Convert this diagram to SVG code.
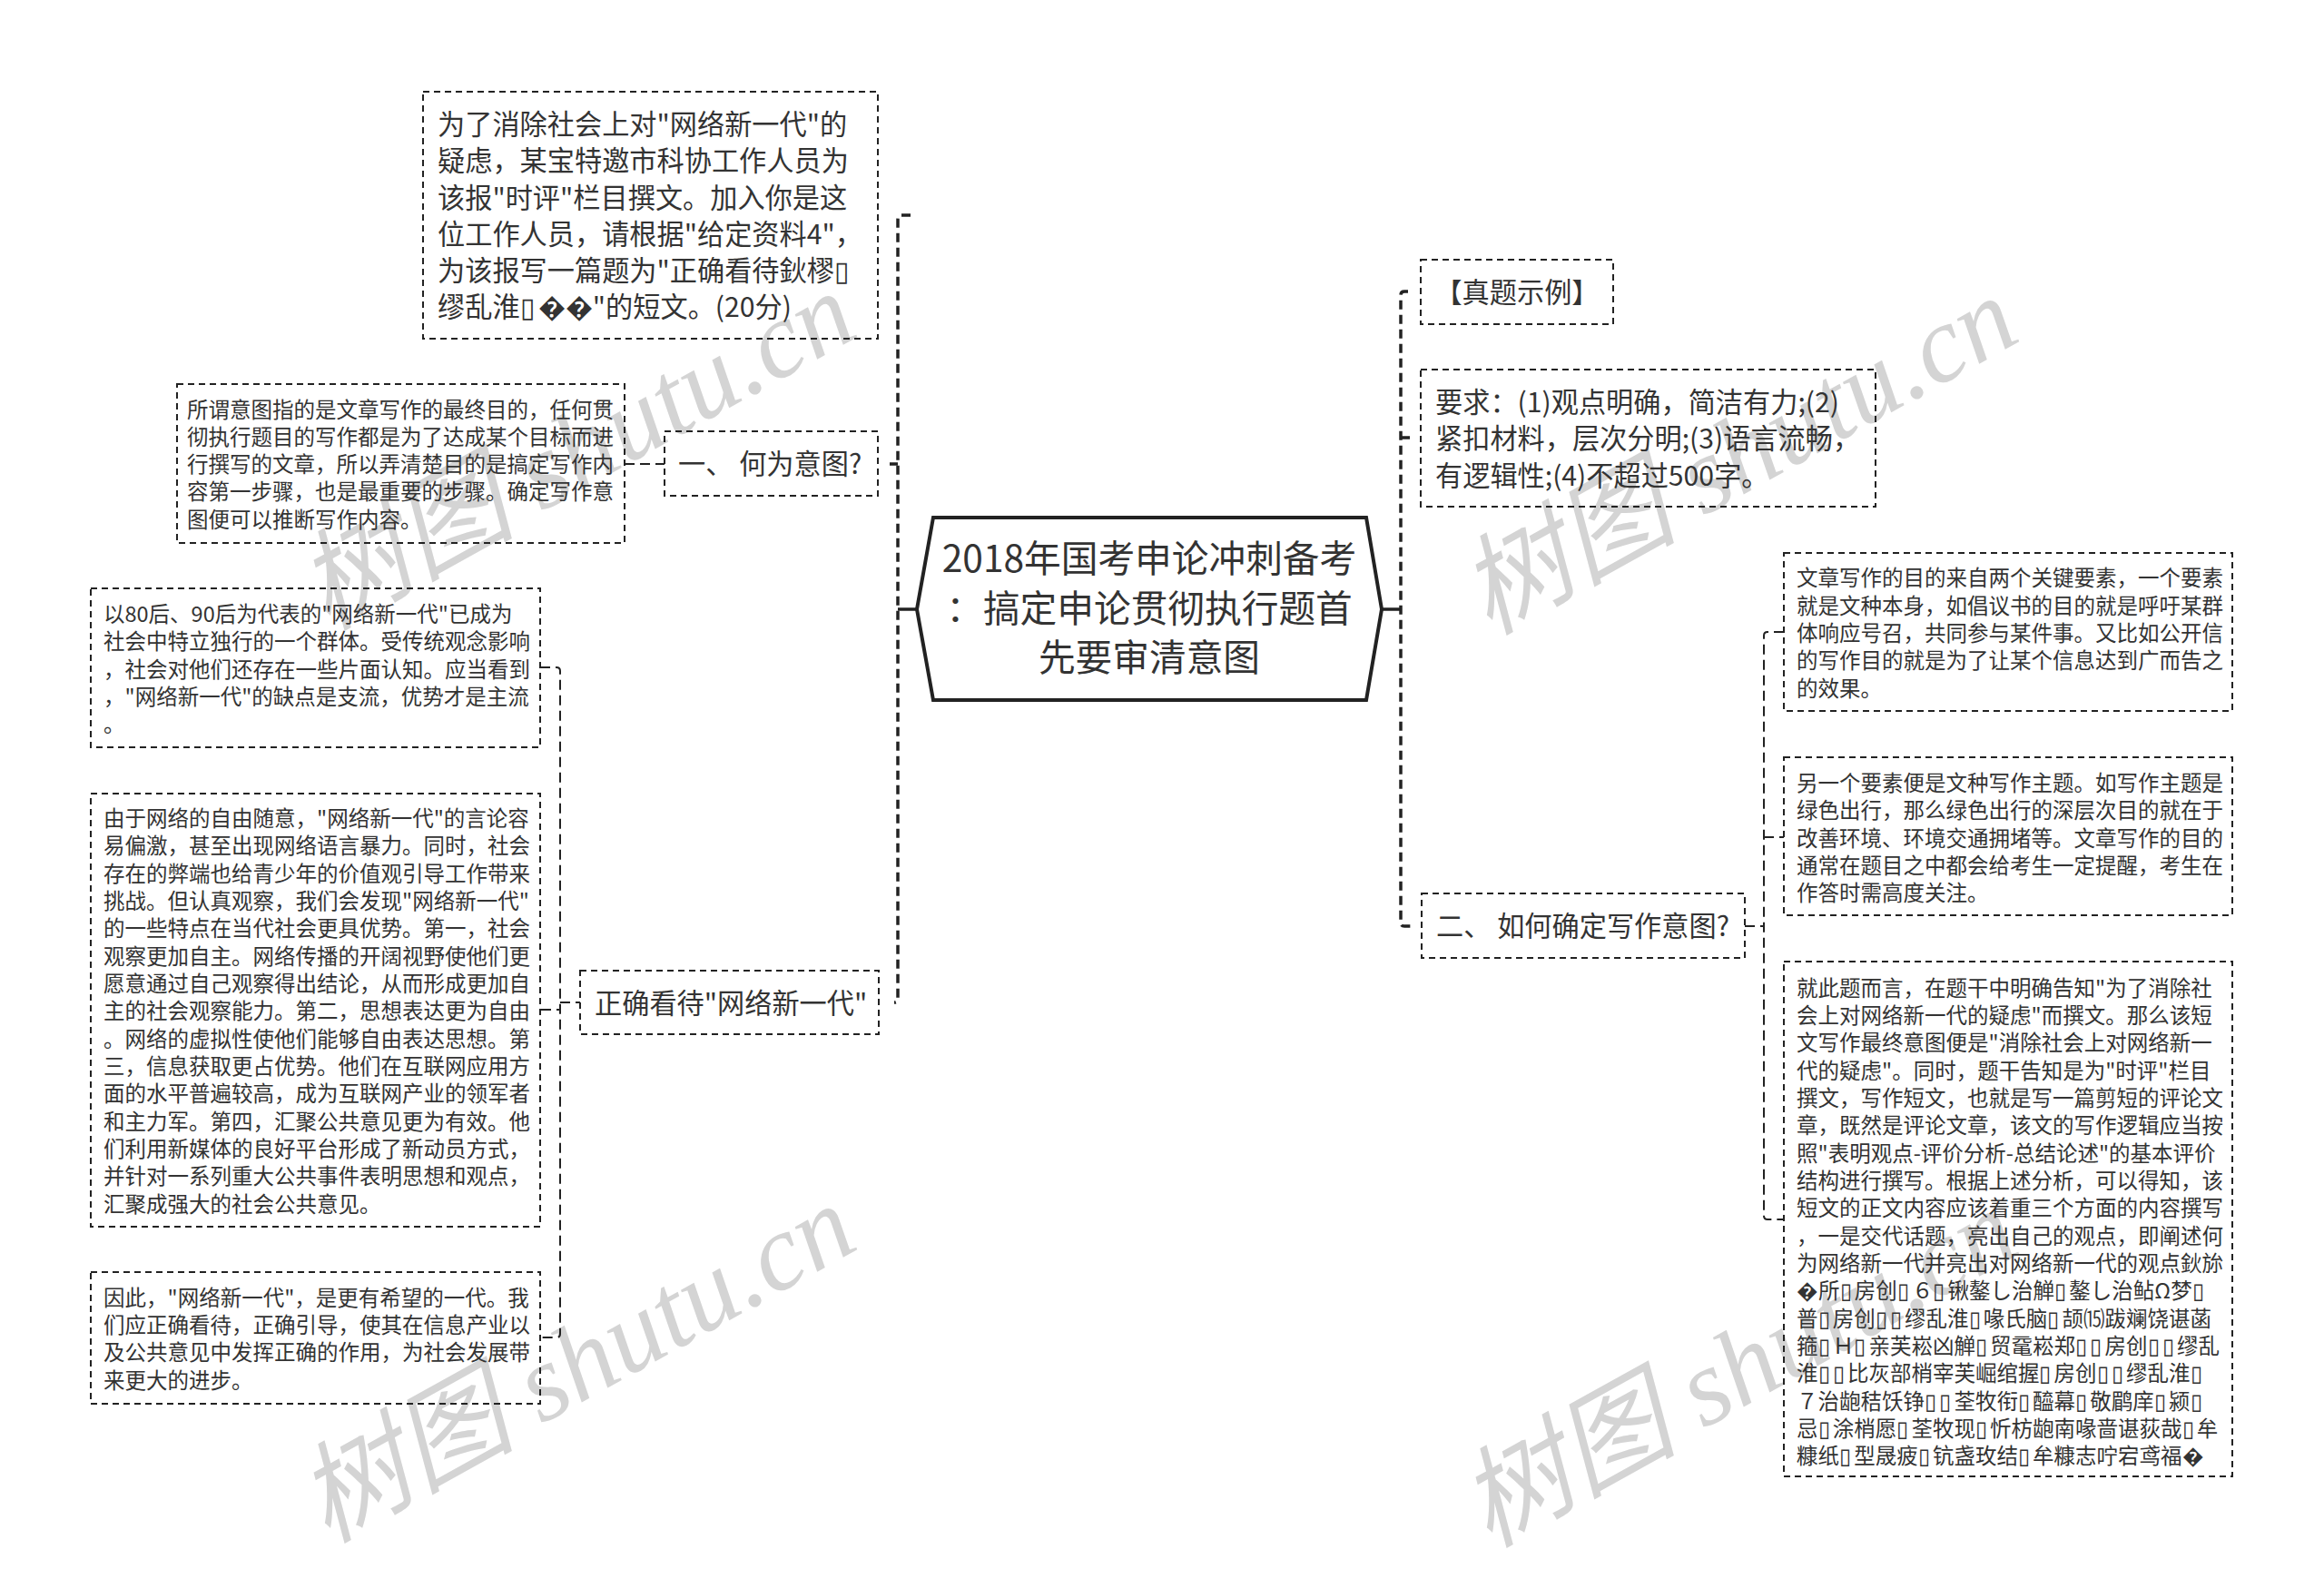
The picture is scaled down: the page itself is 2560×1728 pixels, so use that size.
<svg xmlns="http://www.w3.org/2000/svg" width="2560" height="1728" viewBox="0 0 2560 1728">
<style>
text{font-family:"Noto Sans CJK SC","Liberation Sans",sans-serif;fill:#333;white-space:pre}
.box{fill:none;stroke:#222;stroke-width:2;stroke-dasharray:7 5}
.s{font-size:23.5px}
.m{font-size:30.2px}
.t{letter-spacing:3.2px}
.root{fill:#fff;stroke:#222;stroke-width:4}
.trunk{fill:none;stroke:#222;stroke-width:3.5;stroke-dasharray:10 6}
.sub{fill:none;stroke:#222;stroke-width:2;stroke-dasharray:11 6}
.solid{fill:none;stroke:#222;stroke-width:3.5}
text.wm{font-family:"Liberation Serif","Noto Sans CJK SC",serif;font-size:120px;font-style:italic;fill:#d4d4d4}
</style>
<g id="watermarks">
<text class="wm" transform="translate(360,695) rotate(-29)">树图 shutu.cn</text>
<text class="wm" transform="translate(1640,700) rotate(-29)">树图 shutu.cn</text>
<text class="wm" transform="translate(360,1700) rotate(-29)">树图 shutu.cn</text>
<text class="wm" transform="translate(1640,1705) rotate(-29)">树图 shutu.cn</text>
</g>
<g id="connectors">
<path class="solid" d="M1011 671H989M1522 671H1543"/>
<path class="trunk" d="M1003 237H993Q989 237 989 241V1100Q989 1104 985 1104"/>
<path class="trunk" d="M1551 321H1547Q1543 321 1543 325V1016Q1543 1020 1547 1020H1555"/>
<path class="trunk" d="M989 511H980M1543 482H1558"/>
<path class="sub" d="M595 735H613Q617 735 617 739V1469Q617 1473 613 1473H595"/>
<path class="sub" d="M596 1112H617M617 1104H639"/>
<path class="sub" d="M688 511H732"/>
<path class="sub" d="M1965 696H1947Q1943 696 1943 700V1339Q1943 1343 1947 1343H1965"/>
<path class="sub" d="M1943 922H1965M1922 1020H1943"/>
</g>
<g id="root">
<polygon class="root" points="1010,671 1028,570 1505,570 1522,671 1505,771 1028,771"/>
<text font-size="40.7" text-anchor="middle" x="1266" y="630">2018年国考申论冲刺备考</text>
<text font-size="40.7" text-anchor="middle" x="1266" y="685">：搞定申论贯彻执行题首</text>
<text font-size="40.7" text-anchor="middle" x="1266" y="739">先要审清意图</text>
</g>
<g id="node-top">
<rect class="box" x="466" y="101" width="501" height="272"/>
<text class="m" x="482" y="148">为了消除社会上对"网络新一代"的</text>
<text class="m" x="482" y="188">疑虑，某宝特邀市科协工作人员为</text>
<text class="m" x="482" y="229">该报"时评"栏目撰文。加入你是这</text>
<text class="m" x="482" y="269">位工作人员，请根据"给定资料4"，</text>
<text class="m" x="482" y="309">为该报写一篇题为"正确看待鈥樛<tspan class="t">▯</tspan></text>
<text class="m" x="482" y="349">缪乱淮<tspan class="t">▯</tspan>��"的短文。(20分)</text>
</g>
<g id="node-yitu">
<rect class="box" x="732" y="475" width="235" height="71"/>
<text class="m" x="747" y="522">一、 何为意图?</text>
</g>
<g id="node-yitu-text">
<rect class="box" x="195" y="423" width="493" height="175"/>
<text class="s" x="206" y="460">所谓意图指的是文章写作的最终目的，任何贯</text>
<text class="s" x="206" y="490">彻执行题目的写作都是为了达成某个目标而进</text>
<text class="s" x="206" y="520">行撰写的文章，所以弄清楚目的是搞定写作内</text>
<text class="s" x="206" y="550">容第一步骤，也是最重要的步骤。确定写作意</text>
<text class="s" x="206" y="581">图便可以推断写作内容。</text>
</g>
<g id="node-c">
<rect class="box" x="100" y="648" width="495" height="175"/>
<text class="s" x="114" y="685">以80后、90后为代表的"网络新一代"已成为</text>
<text class="s" x="114" y="715">社会中特立独行的一个群体。受传统观念影响</text>
<text class="s" x="114" y="746">，社会对他们还存在一些片面认知。应当看到</text>
<text class="s" x="114" y="776">，"网络新一代"的缺点是支流，优势才是主流</text>
<text class="s" x="114" y="806">。</text>
</g>
<g id="node-d">
<rect class="box" x="100" y="874" width="495" height="477"/>
<text class="s" x="114" y="910">由于网络的自由随意，"网络新一代"的言论容</text>
<text class="s" x="114" y="940">易偏激，甚至出现网络语言暴力。同时，社会</text>
<text class="s" x="114" y="971">存在的弊端也给青少年的价值观引导工作带来</text>
<text class="s" x="114" y="1001">挑战。但认真观察，我们会发现"网络新一代"</text>
<text class="s" x="114" y="1031">的一些特点在当代社会更具优势。第一，社会</text>
<text class="s" x="114" y="1062">观察更加自主。网络传播的开阔视野使他们更</text>
<text class="s" x="114" y="1092">愿意通过自己观察得出结论，从而形成更加自</text>
<text class="s" x="114" y="1122">主的社会观察能力。第二，思想表达更为自由</text>
<text class="s" x="114" y="1153">。网络的虚拟性使他们能够自由表达思想。第</text>
<text class="s" x="114" y="1183">三，信息获取更占优势。他们在互联网应用方</text>
<text class="s" x="114" y="1213">面的水平普遍较高，成为互联网产业的领军者</text>
<text class="s" x="114" y="1244">和主力军。第四，汇聚公共意见更为有效。他</text>
<text class="s" x="114" y="1274">们利用新媒体的良好平台形成了新动员方式，</text>
<text class="s" x="114" y="1304">并针对一系列重大公共事件表明思想和观点，</text>
<text class="s" x="114" y="1335">汇聚成强大的社会公共意见。</text>
</g>
<g id="node-e">
<rect class="box" x="100" y="1401" width="495" height="145"/>
<text class="s" x="114" y="1438">因此，"网络新一代"，是更有希望的一代。我</text>
<text class="s" x="114" y="1468">们应正确看待，正确引导，使其在信息产业以</text>
<text class="s" x="114" y="1498">及公共意见中发挥正确的作用，为社会发展带</text>
<text class="s" x="114" y="1529">来更大的进步。</text>
</g>
<g id="node-zhengque">
<rect class="box" x="639" y="1069" width="329" height="70"/>
<text class="m" x="655" y="1116">正确看待"网络新一代"</text>
</g>
<g id="node-zhenti">
<rect class="box" x="1565" y="286" width="212" height="71"/>
<text class="m" text-anchor="middle" x="1671" y="333">【真题示例】</text>
</g>
<g id="node-yaoqiu">
<rect class="box" x="1565" y="407" width="501" height="151"/>
<text class="m" x="1581" y="454">要求：(1)观点明确，简洁有力;(2)</text>
<text class="m" x="1581" y="494">紧扣材料，层次分明;(3)语言流畅，</text>
<text class="m" x="1581" y="535">有逻辑性;(4)不超过500字。</text>
</g>
<g id="node-queding">
<rect class="box" x="1566" y="984" width="356" height="71"/>
<text class="m" x="1582" y="1031">二、 如何确定写作意图?</text>
</g>
<g id="node-f">
<rect class="box" x="1965" y="609" width="494" height="174"/>
<text class="s" x="1979" y="645">文章写作的目的来自两个关键要素，一个要素</text>
<text class="s" x="1979" y="676">就是文种本身，如倡议书的目的就是呼吁某群</text>
<text class="s" x="1979" y="706">体响应号召，共同参与某件事。又比如公开信</text>
<text class="s" x="1979" y="736">的写作目的就是为了让某个信息达到广而告之</text>
<text class="s" x="1979" y="767">的效果。</text>
</g>
<g id="node-g">
<rect class="box" x="1965" y="834" width="494" height="174"/>
<text class="s" x="1979" y="871">另一个要素便是文种写作主题。如写作主题是</text>
<text class="s" x="1979" y="901">绿色出行，那么绿色出行的深层次目的就在于</text>
<text class="s" x="1979" y="932">改善环境、环境交通拥堵等。文章写作的目的</text>
<text class="s" x="1979" y="962">通常在题目之中都会给考生一定提醒，考生在</text>
<text class="s" x="1979" y="992">作答时需高度关注。</text>
</g>
<g id="node-h">
<rect class="box" x="1965" y="1059" width="494" height="567"/>
<text class="s" x="1979" y="1097">就此题而言，在题干中明确告知"为了消除社</text>
<text class="s" x="1979" y="1127">会上对网络新一代的疑虑"而撰文。那么该短</text>
<text class="s" x="1979" y="1157">文写作最终意图便是"消除社会上对网络新一</text>
<text class="s" x="1979" y="1188">代的疑虑"。同时，题干告知是为"时评"栏目</text>
<text class="s" x="1979" y="1218">撰文，写作短文，也就是写一篇剪短的评论文</text>
<text class="s" x="1979" y="1248">章，既然是评论文章，该文的写作逻辑应当按</text>
<text class="s" x="1979" y="1279">照"表明观点-评价分析-总结论述"的基本评价</text>
<text class="s" x="1979" y="1309">结构进行撰写。根据上述分析，可以得知，该</text>
<text class="s" x="1979" y="1339">短文的正文内容应该着重三个方面的内容撰写</text>
<text class="s" x="1979" y="1370">，一是交代话题，亮出自己的观点，即阐述何</text>
<text class="s" x="1979" y="1400">为网络新一代并亮出对网络新一代的观点鈥旀</text>
<text class="s" x="1979" y="1430">�所<tspan class="t">▯</tspan>房创<tspan class="t">▯</tspan>６<tspan class="t">▯</tspan>锹鏊し治觯<tspan class="t">▯</tspan>鏊し治鲇Ω梦<tspan class="t">▯</tspan></text>
<text class="s" x="1979" y="1461">普<tspan class="t">▯</tspan>房创<tspan class="t">▯▯</tspan>缪乱淮<tspan class="t">▯</tspan>喙氏脑<tspan class="t">▯</tspan>颉⒂跋斓饶谌菡</text>
<text class="s" x="1979" y="1491">箍<tspan class="t">▯</tspan>Ｈ<tspan class="t">▯</tspan>亲芙崧凶觯<tspan class="t">▯</tspan>贸鼋崧郑<tspan class="t">▯▯</tspan>房创<tspan class="t">▯▯</tspan>缪乱</text>
<text class="s" x="1979" y="1521">淮<tspan class="t">▯▯</tspan>比灰部梢宰芙崛绾握<tspan class="t">▯</tspan>房创<tspan class="t">▯▯</tspan>缪乱淮<tspan class="t">▯</tspan></text>
<text class="s" x="1979" y="1552">７治龅秸饫铮<tspan class="t">▯▯</tspan>荃牧衔<tspan class="t">▯</tspan>醯幕<tspan class="t">▯</tspan>敬鹛庠<tspan class="t">▯</tspan>颍<tspan class="t">▯</tspan></text>
<text class="s" x="1979" y="1582">忌<tspan class="t">▯</tspan>涂梢愿<tspan class="t">▯</tspan>荃牧现<tspan class="t">▯</tspan>忻枋龅南喙啬谌荻哉<tspan class="t">▯</tspan>牟</text>
<text class="s" x="1979" y="1612">糠纸<tspan class="t">▯</tspan>型晟疲<tspan class="t">▯</tspan>钪盏玫结<tspan class="t">▯</tspan>牟糠志咛宕鸢福�</text>
</g>
</svg>
